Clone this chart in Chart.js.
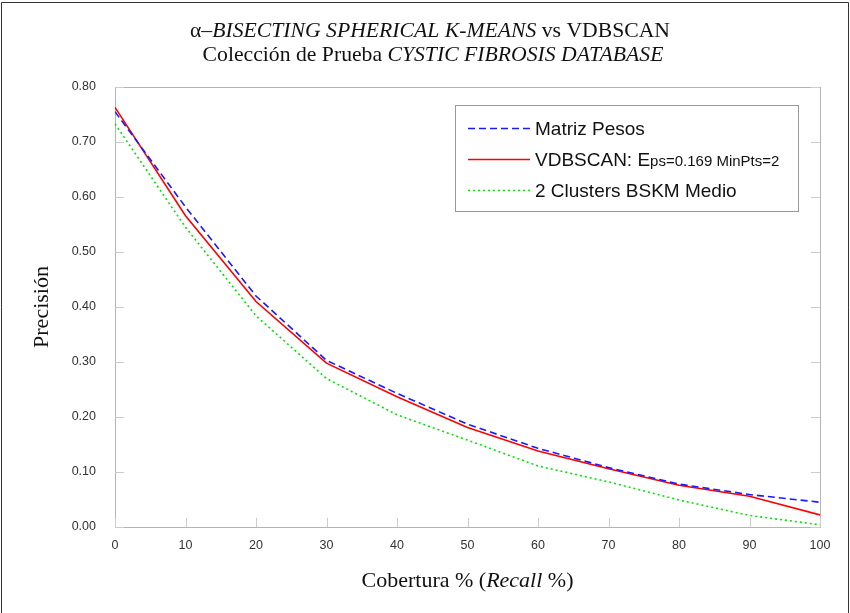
<!DOCTYPE html>
<html>
<head>
<meta charset="utf-8">
<title>BSKM vs VDBSCAN - Cystic Fibrosis</title>
<script src="https://cdn.jsdelivr.net/npm/chart.js@4.4.1/dist/chart.umd.min.js"></script>
<style>
    html, body { margin: 0; padding: 0; background: #fff; }
    #wrap { width: 850px; height: 613px; position: relative; }
</style>
</head>
<body>
<div id="wrap"><canvas id="precisionChart" width="850" height="613"></canvas></div>
<script>
// --- Data ---
const recall = [0, 10, 20, 30, 40, 50, 60, 70, 80, 90, 100];
const matrizPesos = [0.755, 0.582, 0.420, 0.303, 0.243, 0.187, 0.143, 0.108, 0.078, 0.059, 0.045];
const vdbscan = [0.763, 0.566, 0.410, 0.298, 0.237, 0.181, 0.138, 0.106, 0.076, 0.056, 0.022];
const bskmMedio = [0.733, 0.545, 0.384, 0.270, 0.204, 0.158, 0.111, 0.082, 0.049, 0.021, 0.004];
const xTicks = [0, 10, 20, 30, 40, 50, 60, 70, 80, 90, 100];
const yTicks = [0, 0.1, 0.2, 0.3, 0.4, 0.5, 0.6, 0.7, 0.8];

const seriesNames = ['Matriz Pesos', 'VDBSCAN: E', '2 Clusters BSKM Medio'];

const serif = '"Liberation Serif", "Times New Roman", serif';
const sans = '"Liberation Sans", Arial, sans-serif';

function pts(values) {
    return recall.map((r, i) => ({ x: r, y: values[i] }));
}

// draw text made of pieces with different fonts, centred on cx
function mixedText(ctx, parts, cx, cy) {
    let total = 0;
    parts.forEach(p => { ctx.font = p.font; total += ctx.measureText(p.text).width; });
    let x = cx - total / 2;
    ctx.textBaseline = 'middle';
    ctx.textAlign = 'left';
    parts.forEach(p => {
        ctx.font = p.font;
        ctx.fillText(p.text, x, cy);
        x += ctx.measureText(p.text).width;
    });
}

// --- Plugin: frame, inner ticks, titles, legend ---
const decorations = {
    id: 'decorations',
    beforeDatasetsDraw(chart) {
        const ctx = chart.ctx;
        const a = chart.chartArea;
        const xs = chart.scales.x, ys = chart.scales.y;
        ctx.save();
        ctx.strokeStyle = '#b4b4b4';
        ctx.lineWidth = 1;
        ctx.strokeRect(Math.round(a.left) + 0.5, Math.round(a.top) + 0.5,
                       Math.round(a.right - a.left), Math.round(a.bottom - a.top));
        ctx.strokeStyle = '#cccccc';
        ctx.beginPath();
        yTicks.forEach(v => {
            const y = Math.round(ys.getPixelForValue(v)) + 0.5;
            ctx.moveTo(a.left, y); ctx.lineTo(a.left + 9, y);
            ctx.moveTo(a.right, y); ctx.lineTo(a.right - 9, y);
        });
        xTicks.forEach(v => {
            const x = Math.round(xs.getPixelForValue(v)) + 0.5;
            ctx.moveTo(x, a.bottom); ctx.lineTo(x, a.bottom - 9);
        });
        ctx.stroke();
        ctx.restore();
    },
    afterDraw(chart) {
        const ctx = chart.ctx;
        const a = chart.chartArea;
        ctx.save();

        // outer border
        ctx.strokeStyle = '#333';
        ctx.lineWidth = 1;
        ctx.beginPath();
        ctx.moveTo(1.5, 613); ctx.lineTo(1.5, 2.5); ctx.lineTo(848.5, 2.5); ctx.lineTo(848.5, 613);
        ctx.stroke();

        // titles
        ctx.fillStyle = '#111';
        mixedText(ctx, [
            { text: 'α–', font: '21.7px ' + serif },
            { text: 'BISECTING SPHERICAL K-MEANS', font: 'italic 21.7px ' + serif },
            { text: ' vs VDBSCAN', font: '21.7px ' + serif }
        ], 430, 31);
        mixedText(ctx, [
            { text: 'Colección de Prueba ', font: '21.7px ' + serif },
            { text: 'CYSTIC FIBROSIS DATABASE', font: 'italic 21.7px ' + serif }
        ], 433, 55);

        // axis titles
        mixedText(ctx, [
            { text: 'Cobertura % (', font: '22px ' + serif },
            { text: 'Recall', font: 'italic 22px ' + serif },
            { text: ' %)', font: '22px ' + serif }
        ], (a.left + a.right) / 2, 581);
        ctx.save();
        ctx.translate(42, (a.top + a.bottom) / 2);
        ctx.rotate(-Math.PI / 2);
        mixedText(ctx, [{ text: 'Precisión', font: '22px ' + serif }], 0, 0);
        ctx.restore();

        // legend box
        const bx = 455.5, by = 105.5, bw = 343, bh = 106;
        ctx.fillStyle = '#fff';
        ctx.fillRect(bx, by, bw, bh);
        ctx.strokeStyle = '#999';
        ctx.strokeRect(bx, by, bw, bh);
        const rowY = [128, 159, 190];
        chart.data.datasets.forEach((ds, i) => {
            const y = rowY[i] + 0.5;
            ctx.strokeStyle = ds.borderColor;
            ctx.lineWidth = ds.borderWidth;
            ctx.setLineDash(ds.borderDash || []);
            ctx.beginPath();
            ctx.moveTo(468, y); ctx.lineTo(530, y);
            ctx.stroke();
            ctx.setLineDash([]);
            ctx.fillStyle = '#111';
            ctx.textAlign = 'left';
            ctx.textBaseline = 'alphabetic';
            ctx.font = '19px ' + sans;
            ctx.fillText(seriesNames[i], 535, rowY[i] + 7);
            if (i === 1) {
                const w = ctx.measureText(seriesNames[i]).width;
                ctx.font = '15px ' + sans;
                ctx.fillText('ps=0.169 MinPts=2', 535 + w, rowY[i] + 7);
            }
        });
        ctx.restore();
    }
};

document.addEventListener('DOMContentLoaded', function() {
    const ctx = document.getElementById('precisionChart');

    new Chart(ctx, {
        type: 'line',
        data: {
            datasets: [{
                label: seriesNames[0],
                data: pts(matrizPesos),
                borderColor: '#1a1aff',
                borderWidth: 1.6,
                borderDash: [7, 4],
                pointRadius: 0,
                tension: 0
            }, {
                label: seriesNames[1],
                data: pts(vdbscan),
                borderColor: '#ff0000',
                borderWidth: 1.6,
                pointRadius: 0,
                tension: 0
            }, {
                label: seriesNames[2],
                data: pts(bskmMedio),
                borderColor: '#00e600',
                borderWidth: 1.6,
                borderDash: [2, 3],
                pointRadius: 0,
                tension: 0
            }]
        },
        options: {
            responsive: false,
            animation: false,
            layout: { padding: { left: 45, right: 30, top: 87, bottom: 36 } },
            plugins: {
                legend: { display: false },
                title: { display: false },
                tooltip: { enabled: false }
            },
            scales: {
                x: {
                    type: 'linear',
                    min: 0,
                    max: 100,
                    afterBuildTicks: (scale) => { scale.ticks = xTicks.map(v => ({ value: v })); },
                    afterFit: (scale) => { scale.height = 50; },
                    grid: { display: false, drawTicks: false, tickLength: 0 },
                    border: { display: false },
                    ticks: {
                        color: '#333',
                        font: { family: sans, size: 12.5 },
                        padding: 11,
                        maxRotation: 0
                    }
                },
                y: {
                    min: 0,
                    max: 0.8,
                    afterBuildTicks: (scale) => { scale.ticks = yTicks.map(v => ({ value: v })); },
                    afterFit: (scale) => { scale.width = 70; },
                    grid: { display: false, drawTicks: false, tickLength: 0 },
                    border: { display: false },
                    ticks: {
                        color: '#333',
                        font: { family: sans, size: 12.5 },
                        padding: 19,
                        callback: (v) => v.toFixed(2)
                    }
                }
            }
        },
        plugins: [decorations]
    });
});
</script>
</body>
</html>
